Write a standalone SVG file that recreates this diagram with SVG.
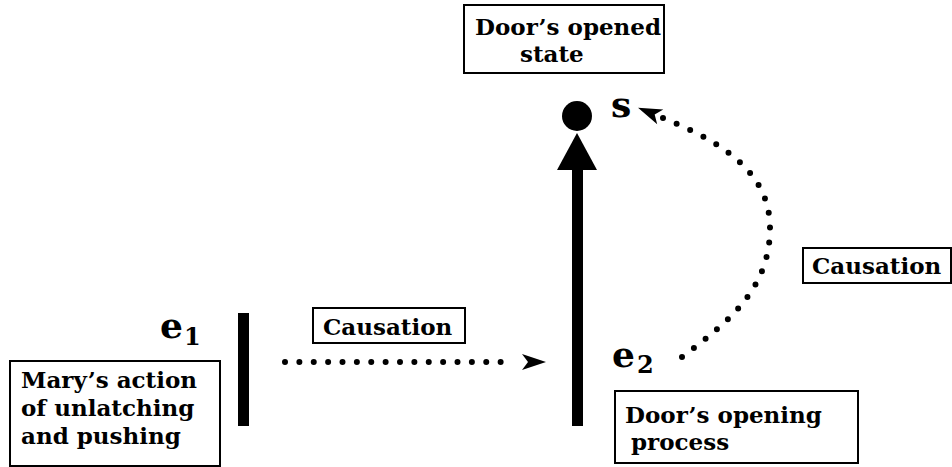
<svg xmlns="http://www.w3.org/2000/svg" width="952" height="467" viewBox="0 0 952 467">
  <style>
    .box { fill: #fff; stroke: #000; stroke-width: 2; }
    .lbl { font-family: "DejaVu Serif", "Liberation Serif", serif; font-weight: bold; font-size: 23px; fill: #000; }
    .big { font-family: "DejaVu Serif", "Liberation Serif", serif; font-weight: bold; font-size: 36px; fill: #000; }
    .sub { font-family: "DejaVu Serif", "Liberation Serif", serif; font-weight: bold; font-size: 24px; fill: #000; }
    .dots { fill: none; stroke: #000; stroke-width: 6; stroke-linecap: round; stroke-dasharray: 0 1; }
  </style>
  <defs>
    <!-- stealth arrowheads; the back of the head sits just past the last dot -->
    <marker id="stealth-far" markerUnits="userSpaceOnUse" markerWidth="40" markerHeight="20" refX="7" refY="10" orient="auto" overflow="visible">
      <path d="M38,10 L14,2 L20,10 L14,18 Z" fill="#000"/>
    </marker>
    <marker id="stealth-near" markerUnits="userSpaceOnUse" markerWidth="40" markerHeight="20" refX="11" refY="10" orient="auto" overflow="visible">
      <path d="M38,10 L14,2 L20,10 L14,18 Z" fill="#000"/>
    </marker>
  </defs>

  <g id="connectors">
    <!-- e1 causes the opening process -->
    <path class="dots" d="M285,362 L515,362" pathLength="16" marker-end="url(#stealth-far)"/>
    <!-- e2 causes the opened state -->
    <path class="dots" d="M682,357 C730,321 770,288 770,228 C770,168 714,139 663,118" pathLength="22" marker-end="url(#stealth-near)"/>
  </g>

  <g id="state-box">
    <rect class="box" x="464" y="5" width="200" height="68"/>
    <text class="lbl" x="475" y="35">Door’s opened</text>
    <text class="lbl" x="520" y="62">state</text>
  </g>

  <g id="state-s">
    <circle cx="577" cy="116" r="15" fill="#000"/>
    <text class="big" x="611" y="117">s</text>
  </g>

  <g id="process-e2">
    <rect x="572" y="166" width="11" height="260" fill="#000"/>
    <polygon points="577,133 557,170 597,170" fill="#000"/>
    <text class="big" x="612" y="367">e</text>
    <text class="sub" x="637" y="373">2</text>
  </g>

  <g id="process-box">
    <rect class="box" x="615" y="391" width="243" height="72"/>
    <text class="lbl" x="625" y="423">Door’s opening</text>
    <text class="lbl" x="631" y="450">process</text>
  </g>

  <g id="action-e1">
    <rect x="238" y="313" width="11" height="113" fill="#000"/>
    <text class="big" x="160" y="338">e</text>
    <text class="sub" x="184" y="345">1</text>
  </g>

  <g id="action-box">
    <rect class="box" x="10" y="361" width="210" height="105"/>
    <text class="lbl" x="21" y="388">Mary’s action</text>
    <text class="lbl" x="21" y="416">of unlatching</text>
    <text class="lbl" x="21" y="444">and pushing</text>
  </g>

  <g id="causation-1">
    <rect class="box" x="313" y="308" width="152" height="35"/>
    <text class="lbl" x="323" y="335">Causation</text>
  </g>

  <g id="causation-2">
    <rect class="box" x="803" y="248" width="148" height="35"/>
    <text class="lbl" x="812" y="274">Causation</text>
  </g>
</svg>
